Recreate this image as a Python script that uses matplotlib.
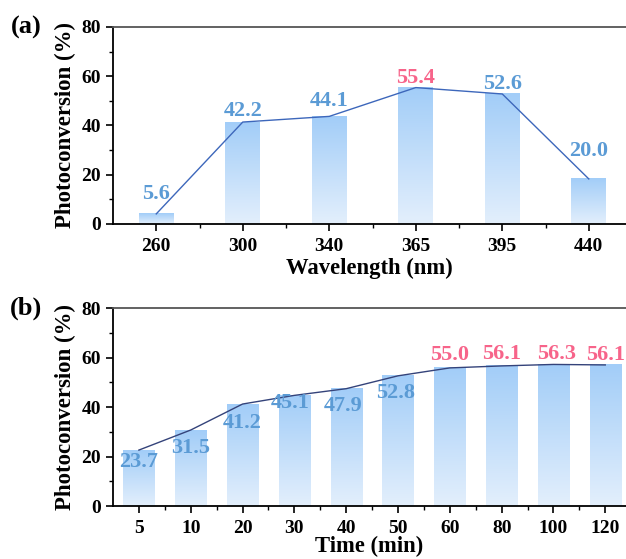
import numpy as np
import matplotlib
matplotlib.use("Agg")
import matplotlib.pyplot as plt
from matplotlib.colors import LinearSegmentedColormap

plt.rcParams['font.family'] = ['Liberation Serif', 'DejaVu Serif']
plt.rcParams['font.weight'] = 'bold'

# (a) wavelength
wl_labels = ['260', '300', '340', '365', '395', '440']
wl_bars = [4.1, 41.4, 43.7, 55.4, 52.8, 18.3]
wl_text = ['5.6', '42.2', '44.1', '55.4', '52.6', '20.0']
wl_pink = [False, False, False, True, False, False]

# (b) time
t_labels = ['5', '10', '20', '30', '40', '50', '60', '80', '100', '120']
t_bars = [22.6, 30.7, 41.2, 44.7, 47.4, 52.6, 55.8, 56.6, 57.2, 57.0]
t_text = ['23.7', '31.5', '41.2', '45.1', '47.9', '52.8', '55.0', '56.1', '56.3', '56.1']
t_pink = [False, False, False, False, False, False, True, True, True, True]

# label offsets in pixels (dx, dy) relative to bar top
wl_off = [(0, 20), (0, 11), (0, 15), (0, 10), (0, 10), (0, 28)]
t_off = [(0, -12), (0, -18), (0, -19), (-4, -8), (-3, -17), (-2, -17),
         (0, 13), (0, 12), (3, 10), (0, 10)]

BLUE = '#5b9bd5'
PINK = '#f7648a'
grad = LinearSegmentedColormap.from_list('g', ['#e3effc', '#a2cdf8'])


def panel(ax, labels, bars, texts, pink, offs, width, xlim, xlabel, line_color, tag, lpad):
    x = np.arange(len(labels))
    g = np.linspace(0, 1, 256).reshape(-1, 1)
    for xi, h in zip(x, bars):
        ax.imshow(g, extent=(xi - width / 2, xi + width / 2, 0, h), origin='lower',
                  cmap=grad, aspect='auto', zorder=1)
    ax.plot(x, bars, color=line_color, lw=1.0, zorder=3)
    for xi, h, s, p, (dx, dy) in zip(x, bars, texts, pink, offs):
        ax.annotate(s, (xi, h), xytext=(dx, dy), textcoords='offset pixels',
                    ha='center', va='center', fontsize=16, fontweight='bold',
                    color=PINK if p else BLUE, zorder=4)
    ax.set_xlim(*xlim)
    ax.set_ylim(0, 80)
    ax.set_xticks(x)
    ax.set_xticklabels(labels)
    ax.set_xticks(x[:-1] + 0.5, minor=True)
    ax.set_yticks([0, 20, 40, 60, 80])
    ax.set_yticks([10, 30, 50, 70], minor=True)
    ax.tick_params(which='major', direction='out', length=5, width=1.2, labelsize=14)
    ax.tick_params(axis='x', which='major', pad=5)
    ax.tick_params(which='minor', direction='out', length=3, width=1.0)
    for s in ['left', 'bottom', 'top']:
        ax.spines[s].set_linewidth(1.3)
    ax.spines['top'].set_color('#555555')
    ax.spines['right'].set_visible(False)
    ax.set_xlabel(xlabel, fontsize=16.3, fontweight='bold', labelpad=lpad)
    ax.set_ylabel('Photoconversion (%)', fontsize=16.5, fontweight='bold', labelpad=4)
    for t in ax.get_xticklabels() + ax.get_yticklabels():
        t.set_fontweight('bold')
    ax.text(-0.17, 1.0, tag, transform=ax.transAxes, fontsize=19, fontweight='bold',
            ha='center', va='center')


fig = plt.figure(figsize=(6.26, 5.59), dpi=100)
ax1 = fig.add_axes([0.1805, 0.5993, 0.8195, 0.3524])
ax2 = fig.add_axes([0.1805, 0.0948, 0.8195, 0.3542])

panel(ax1, wl_labels, wl_bars, wl_text, wl_pink, wl_off, 0.4, (-0.5, 5.43),
      'Wavelength (nm)', '#3d67bb', '(a)', 2)
panel(ax2, t_labels, t_bars, t_text, t_pink, t_off, 0.6, (-0.5, 9.4),
      'Time (min)', '#34437a', '(b)', -1)

fig.savefig('out.png', dpi=100)
